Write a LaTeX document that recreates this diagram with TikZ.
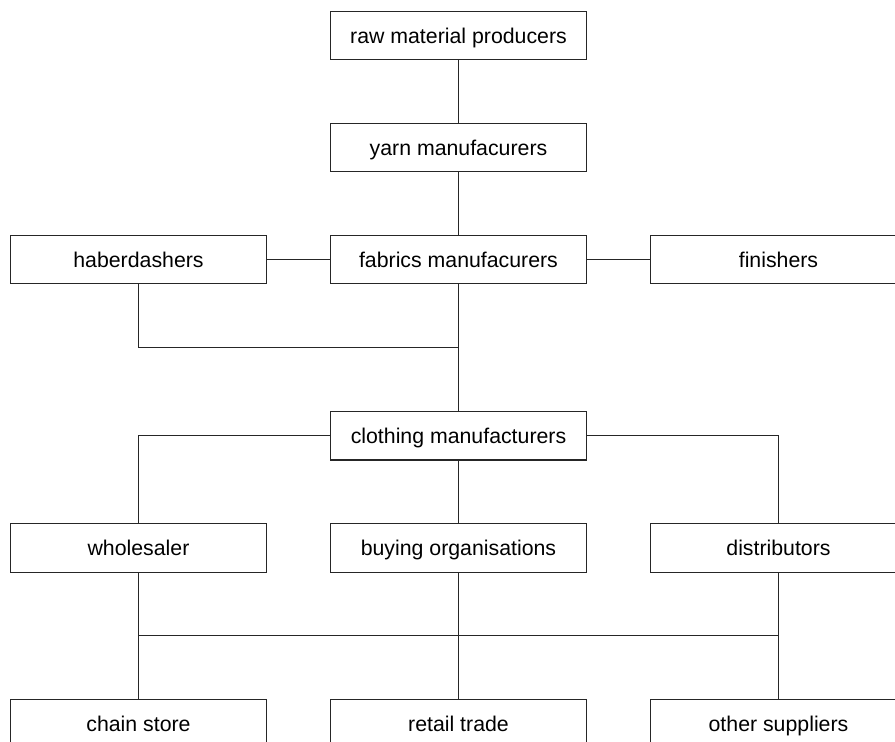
\documentclass[tikz,border=0pt]{standalone}
\usepackage{fontspec}
\setmainfont{Liberation Sans}
\begin{document}
\begin{tikzpicture}[x=1pt,y=-1pt,
  box/.style={draw=black!85,line width=1.2pt,rectangle,minimum width=256pt,
    minimum height=48.5pt,inner sep=0pt,text height=15.3pt,text depth=0pt,
    font=\fontsize{21.3}{25}\selectfont},
  link/.style={draw=black!85,line width=1.2pt}]
  \useasboundingbox (0,0) rectangle (895,742);

  % top chain
  \node[box] (raw)   at (458.5,35.5)  {raw material producers};
  \node[box] (yarn)  at (458.5,147.5) {yarn manufacurers};
  \node[box] (hab)   at (138.5,259.5) {haberdashers};
  \node[box] (fab)   at (458.5,259.5) {fabrics manufacurers};
  \node[box] (fin)   at (778.5,259.5) {finishers};
  \node[box] (cloth) at (458.5,435.8) {clothing manufacturers};

  % distribution tiers
  \node[box] (whole) at (138.5,548) {wholesaler};
  \node[box] (buy)   at (458.5,548) {buying organisations};
  \node[box] (dist)  at (778.5,548) {distributors};
  \node[box] (chain) at (138.5,723.5) {chain store};
  \node[box] (retail) at (458.5,723.5) {retail trade};
  \node[box] (other) at (778.5,723.5) {other suppliers};

  % junction points
  \coordinate (habjoin) at (458.5,347.3);
  \coordinate (busL) at (138.5,635.7);
  \coordinate (busR) at (778.5,635.7);

  \path[link] (raw.south) -- (yarn.north);
  \path[link] (yarn.south) -- (fab.north);
  \path[link] (hab.east) -- (fab.west);
  \path[link] (fab.east) -- (fin.west);
  \path[link] (fab.south) -- (cloth.north);
  \path[link] (hab.south) |- (habjoin);

  \path[link] (cloth.west) -| (whole.north);
  \path[link] (cloth.east) -| (dist.north);
  \path[link] (cloth.south) -- (buy.north);

  \path[link] (whole.south) -- (chain.north);
  \path[link] (buy.south) -- (retail.north);
  \path[link] (dist.south) -- (other.north);
  \path[link] (busL) -- (busR);
\end{tikzpicture}
\end{document}
